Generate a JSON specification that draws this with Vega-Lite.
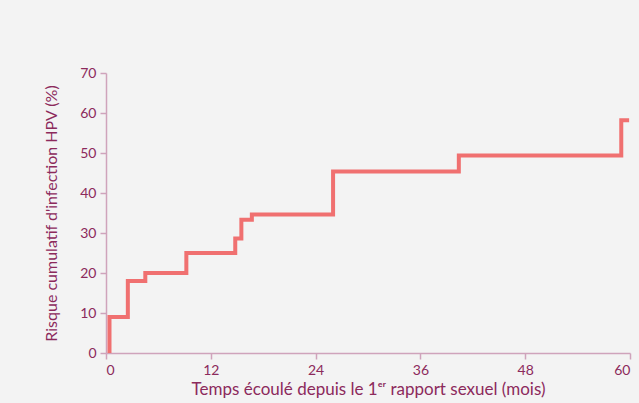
{
  "$schema": "https://vega.github.io/schema/vega-lite/v6.json",
  "width": 524,
  "height": 280,
  "autosize": "none",
  "padding": {"left": 106, "top": 73, "right": 9, "bottom": 50},
  "background": "#f3f3f3",
  "config": {
    "view": {"stroke": null},
    "font": "Lato",
    "axis": {
      "grid": false,
      "domainColor": "#cfa3bb",
      "domainWidth": 1.5,
      "tickColor": "#cfa3bb",
      "tickWidth": 1.5,
      "tickSize": 6,
      "labelColor": "#8c2a5c",
      "labelFontSize": 14,
      "labelFont": "Lato",
      "titleColor": "#8c2a5c",
      "titleFont": "Lato",
      "titleFontSize": 16,
      "titleFontWeight": "normal"
    }
  },
  "data": {
    "values": [
      {"mois": 0.4, "risque": 0},
      {"mois": 0.4, "risque": 9},
      {"mois": 2.5, "risque": 18},
      {"mois": 4.5, "risque": 20},
      {"mois": 9.2, "risque": 25},
      {"mois": 14.8, "risque": 28.6},
      {"mois": 15.5, "risque": 33.3},
      {"mois": 16.7, "risque": 34.6},
      {"mois": 26.0, "risque": 45.4},
      {"mois": 40.4, "risque": 49.4},
      {"mois": 59.0, "risque": 58.2},
      {"mois": 59.9, "risque": 58.2}
    ]
  },
  "mark": {"type": "line", "interpolate": "step-after", "color": "#f07070", "strokeWidth": 4, "clip": false},
  "encoding": {
    "x": {
      "field": "mois", "type": "quantitative",
      "scale": {"domain": [0, 60], "nice": false},
      "axis": {"values": [0, 12, 24, 36, 48, 60], "title": "Temps écoulé depuis le 1ᵉʳ rapport sexuel (mois)", "titleFontSize": 17, "titlePadding": 4, "labelPadding": 4}
    },
    "y": {
      "field": "risque", "type": "quantitative",
      "scale": {"domain": [0, 70], "nice": false},
      "axis": {"values": [0, 10, 20, 30, 40, 50, 60, 70], "title": "Risque cumulatif d'infection HPV (%)", "titlePadding": 20, "labelPadding": 4}
    }
  }
}
